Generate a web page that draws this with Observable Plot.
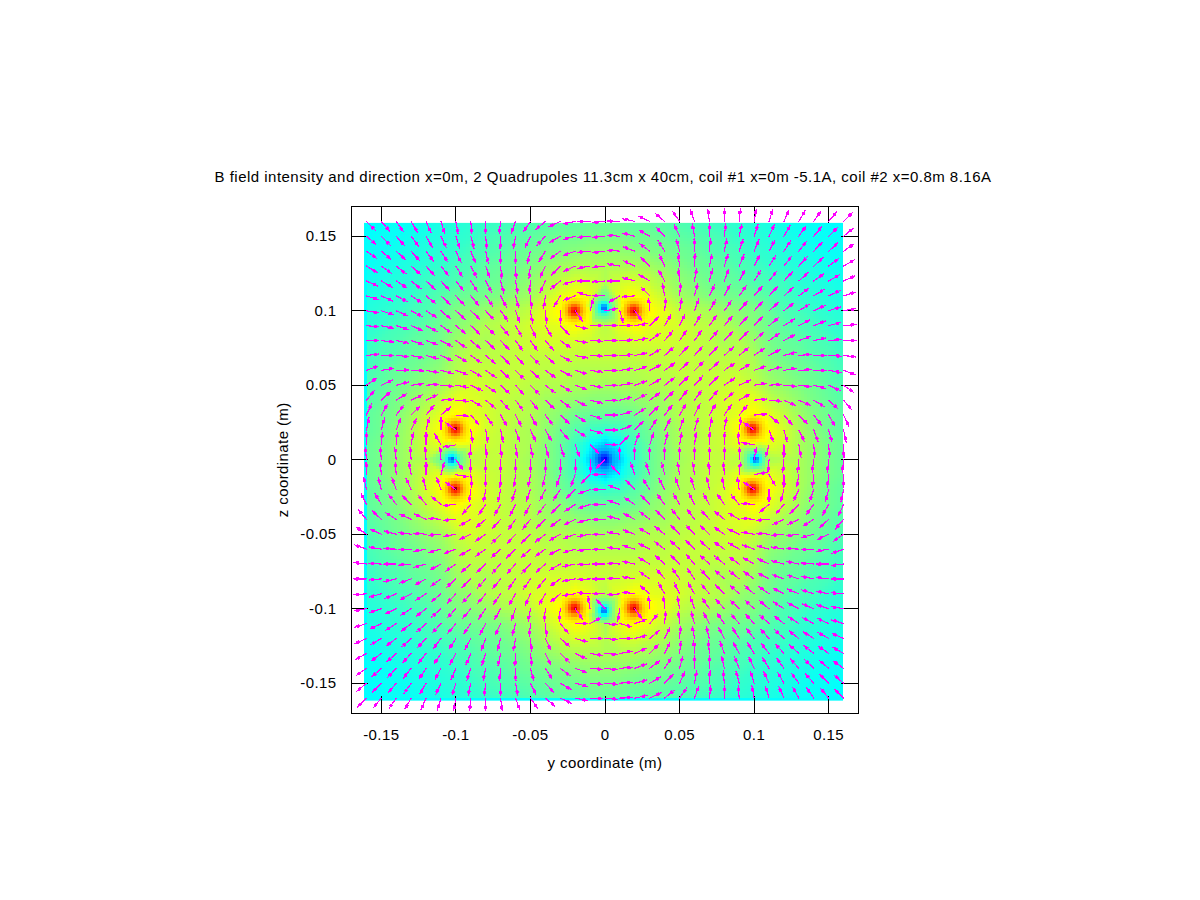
<!DOCTYPE html>
<html><head><meta charset="utf-8">
<script src="https://cdn.jsdelivr.net/npm/d3@7"></script>
<script src="https://cdn.jsdelivr.net/npm/@observablehq/plot@0.6"></script>
<style>
body{margin:0;background:#fff;font-family:"Liberation Sans",Arial,sans-serif}
#title{height:190px;box-sizing:border-box;padding-top:167px;line-height:20px;font-size:15px;letter-spacing:0.48px;text-align:center;width:1206px;color:#000;white-space:nowrap}
svg{display:block}
</style></head><body>
<div id="title">B field intensity and direction x=0m, 2 Quadrupoles 11.3cm x 40cm, coil #1 x=0m -5.1A, coil #2 x=0.8m 8.16A</div>
<div id="chart"></div>
<script>
const xLabel = "y coordinate (m)";
const yLabel = "z coordinate (m)";
const tickValues = [-0.15,-0.1,-0.05,0,0.05,0.1,0.15];
const gridY = [-0.16,-0.15,-0.14,-0.13,-0.12,-0.11,-0.1,-0.09,-0.08,-0.07,-0.06,-0.05,-0.04,-0.03,-0.02,-0.01,0,0.01,0.02,0.03,0.04,0.05,0.06,0.07,0.08,0.09,0.1,0.11,0.12,0.13,0.14,0.15,0.16];
const gridZ = [0.16,0.15,0.14,0.13,0.12,0.11,0.1,0.09,0.08,0.07,0.06,0.05,0.04,0.03,0.02,0.01,0,-0.01,-0.02,-0.03,-0.04,-0.05,-0.06,-0.07,-0.08,-0.09,-0.1,-0.11,-0.12,-0.13,-0.14,-0.15,-0.16];

// Field intensity, on the colour ramp's 0-100 position, rows top to bottom
const intensity = [
[35,35,36,36,37,38,39,40,41,42,43,44,45,46,46,47,47,47,46,46,45,44,43,42,41,40,39,38,37,36,36,35,35],
[35,36,36,37,38,39,40,41,43,44,45,46,47,48,48,49,49,49,48,48,47,46,45,44,43,41,40,39,38,37,36,36,35],
[36,36,37,38,39,40,41,43,44,45,47,48,49,50,51,52,52,52,51,50,49,48,47,45,44,43,41,40,39,38,37,36,36],
[36,37,38,39,40,41,43,44,46,47,48,50,52,54,55,55,55,55,55,54,52,50,48,47,46,44,43,41,40,39,38,37,36],
[37,38,39,40,42,43,44,46,47,48,50,52,55,58,60,59,56,59,60,58,55,52,50,48,47,46,44,43,42,40,39,38,37],
[38,39,40,41,43,45,47,48,49,50,52,54,58,62,65,62,55,62,65,62,58,54,52,50,49,48,47,45,43,41,40,39,38],
[39,40,41,43,44,47,50,51,53,55,56,58,62,66,100,63,5,63,100,66,62,58,56,55,53,51,50,47,44,43,41,40,39],
[40,41,43,44,46,48,51,53,56,57,58,60,61,62,65,62,57,62,65,62,61,60,58,57,56,53,51,48,46,44,43,41,40],
[41,43,44,46,47,49,53,56,55,57,58,59,60,60,60,59,58,59,60,60,60,59,58,57,55,56,53,49,47,46,44,43,41],
[42,44,45,47,48,50,55,57,57,57,58,58,58,58,58,58,58,58,58,58,58,58,58,57,57,57,55,50,48,47,45,44,42],
[43,45,47,48,50,52,56,58,58,58,58,58,57,57,56,56,56,56,56,57,57,58,58,58,58,58,56,52,50,48,47,45,43],
[44,46,48,50,52,54,58,60,59,58,58,57,56,56,55,55,54,55,55,56,56,57,58,58,59,60,58,54,52,50,48,46,44],
[45,47,49,52,55,58,62,61,60,58,57,56,54,53,52,51,51,51,52,53,54,56,57,58,60,61,62,58,55,52,49,47,45],
[46,48,50,54,58,62,66,62,60,58,57,56,53,51,48,47,47,47,48,51,53,56,57,58,60,62,66,62,58,54,50,48,46],
[46,48,51,55,60,65,100,65,60,58,56,55,52,48,45,42,41,42,45,48,52,55,56,58,60,65,100,65,60,55,51,48,46],
[47,49,52,55,59,62,63,62,59,58,56,55,51,47,42,35,30,35,42,47,51,55,56,58,59,62,63,62,59,55,52,49,47],
[47,49,52,55,56,55,5,57,58,58,56,54,51,47,41,30,0,30,41,47,51,54,56,58,58,57,5,55,56,55,52,49,47],
[47,49,52,55,59,62,63,62,59,58,56,55,51,47,42,35,30,35,42,47,51,55,56,58,59,62,63,62,59,55,52,49,47],
[46,48,51,55,60,65,100,65,60,58,56,55,52,48,45,42,41,42,45,48,52,55,56,58,60,65,100,65,60,55,51,48,46],
[46,48,50,54,58,62,66,62,60,58,57,56,53,51,48,47,47,47,48,51,53,56,57,58,60,62,66,62,58,54,50,48,46],
[45,47,49,52,55,58,62,61,60,58,57,56,54,53,52,51,51,51,52,53,54,56,57,58,60,61,62,58,55,52,49,47,45],
[44,46,48,50,52,54,58,60,59,58,58,57,56,56,55,55,54,55,55,56,56,57,58,58,59,60,58,54,52,50,48,46,44],
[43,45,47,48,50,52,56,58,58,58,58,58,57,57,56,56,56,56,56,57,57,58,58,58,58,58,56,52,50,48,47,45,43],
[42,44,45,47,48,50,55,57,57,57,58,58,58,58,58,58,58,58,58,58,58,58,58,57,57,57,55,50,48,47,45,44,42],
[41,43,44,46,47,49,53,56,55,57,58,59,60,60,60,59,58,59,60,60,60,59,58,57,55,56,53,49,47,46,44,43,41],
[40,41,43,44,46,48,51,53,56,57,58,60,61,62,65,62,57,62,65,62,61,60,58,57,56,53,51,48,46,44,43,41,40],
[39,40,41,43,44,47,50,51,53,55,56,58,62,66,100,63,5,63,100,66,62,58,56,55,53,51,50,47,44,43,41,40,39],
[38,39,40,41,43,45,47,48,49,50,52,54,58,62,65,62,55,62,65,62,58,54,52,50,49,48,47,45,43,41,40,39,38],
[37,38,39,40,42,43,44,46,47,48,50,52,55,58,60,59,56,59,60,58,55,52,50,48,47,46,44,43,42,40,39,38,37],
[36,37,38,39,40,41,43,44,46,47,48,50,52,54,55,55,55,55,55,54,52,50,48,47,46,44,43,41,40,39,38,37,36],
[36,36,37,38,39,40,41,43,44,45,47,48,49,50,51,52,52,52,51,50,49,48,47,45,44,43,41,40,39,38,37,36,36],
[35,36,36,37,38,39,40,41,43,44,45,46,47,48,48,49,49,49,48,48,47,46,45,44,43,41,40,39,38,37,36,36,35],
[35,35,36,36,37,38,39,40,41,42,43,44,45,46,46,47,47,47,46,46,45,44,43,42,41,40,39,38,37,36,36,35,35]
];

// Arrow direction in degrees (counter-clockwise from +y), rows top to bottom
const arrowAngle = [
[-45,-50,-55,-60,-66,-73,-80,-85,-90,-97,-110,-125,-140,-155,-168,-178,185,178,168,155,140,125,110,97,90,85,80,73,66,60,55,50,45],
[-40,-45,-48,-53,-60,-65,-72,-75,-85,-93,-100,-115,-133,-150,-165,-175,185,175,165,150,133,115,100,90,83,78,72,65,60,55,50,45,40],
[-35,-40,-43,-48,-54,-58,-65,-68,-78,-90,-92,-105,-122,-143,-160,-175,187,175,160,143,122,105,92,85,78,72,67,62,57,52,47,42,35],
[-30,-35,-38,-42,-48,-52,-58,-62,-70,-85,-87,-97,-115,-135,-155,-170,185,170,155,135,115,97,87,78,72,67,62,57,52,48,42,37,30],
[-24,-30,-33,-38,-43,-48,-52,-58,-62,-75,-80,-95,-115,-140,-165,-180,185,180,165,150,120,95,80,75,70,62,57,52,47,42,36,30,24],
[-17,-25,-28,-33,-38,-43,-48,-50,-55,-62,-75,-85,-98,-120,-160,-195,180,210,185,135,100,85,75,65,62,55,50,47,42,38,32,25,17],
[-10,-18,-23,-28,-33,-40,-43,-43,-48,-55,-70,-80,-85,-88,-55,75,10,-75,-55,95,85,80,70,60,55,50,47,42,38,32,25,18,10],
[-5,-12,-18,-23,-28,-35,-40,-43,-45,-50,-60,-65,-60,-45,-15,0,0,0,10,45,60,65,60,55,50,47,47,40,32,28,22,15,5],
[0,-7,-12,-18,-20,-28,-35,-40,-43,-47,-55,-55,-50,-35,-10,-3,0,3,10,35,50,55,55,50,47,45,42,35,28,20,12,5,0],
[7,0,-5,-12,-15,-25,-30,-35,-40,-43,-48,-45,-42,-30,-12,-3,0,3,12,30,42,47,48,47,43,40,35,28,15,5,0,-3,-7],
[20,10,2,-3,-10,-15,-20,-30,-35,-42,-45,-42,-36,-27,-17,-8,0,8,17,27,36,42,45,42,35,30,20,15,10,3,-2,-10,-20],
[35,25,15,7,5,-5,-10,-25,-35,-43,-48,-45,-38,-30,-20,-10,0,10,20,30,38,45,48,45,35,25,10,5,-5,-7,-15,-25,-35],
[50,43,32,25,25,5,-5,-30,-40,-48,-54,-52,-45,-37,-27,-14,0,14,27,37,45,52,54,48,40,30,5,-5,-25,-25,-32,-43,-50],
[65,60,53,45,50,40,-5,-50,-55,-60,-63,-60,-53,-45,-33,-18,0,18,33,45,53,60,63,60,55,50,5,-40,-50,-45,-53,-60,-65],
[78,75,70,65,75,90,145,-82,-80,-78,-70,-65,-60,-48,-32,-15,0,20,45,57,63,70,73,78,80,82,145,-70,-75,-65,-70,-75,-78],
[88,85,85,80,90,120,-170,-95,-87,-87,-82,-80,-76,-72,-70,-45,0,45,70,72,76,80,82,87,87,95,170,-105,-90,-80,-85,-85,-88],
[95,95,97,95,95,95,-55,-90,-90,-90,-90,-90,-90,-90,-90,-90,-135,90,90,90,90,90,90,90,90,90,80,-95,-95,-95,-97,-95,-95],
[-268,-265,-265,-260,-270,-285,-10,-85,-93,-93,-98,-100,-104,-108,-110,-135,180,135,110,108,104,100,98,93,93,85,10,300,270,260,265,265,268],
[-258,-255,-250,-245,-255,-250,145,-98,-100,-102,-107,-110,-117,-123,-135,-160,180,160,135,123,117,110,107,102,100,98,145,270,255,245,250,255,258],
[-245,-240,-233,-225,-230,-220,-175,-130,-125,-120,-117,-120,-127,-135,-147,-162,180,162,147,135,127,120,117,120,125,130,175,220,230,225,233,240,245],
[-230,-223,-212,-205,-205,-185,-175,-150,-140,-132,-126,-128,-135,-143,-153,-166,180,166,153,143,135,128,126,132,140,150,175,185,205,205,212,223,230],
[-215,-205,-195,-187,-185,-175,-170,-155,-145,-135,-132,-135,-142,-150,-160,-170,180,170,160,150,142,135,132,137,145,155,170,175,185,187,195,205,215],
[-200,-190,-182,-177,-170,-165,-160,-150,-145,-138,-135,-138,-144,-153,-163,-172,180,172,163,153,144,138,135,138,145,150,160,165,170,177,182,190,200],
[-187,-183,-180,-175,-165,-152,-145,-140,-137,-133,-132,-133,-138,-150,-168,-177,180,177,168,150,138,135,132,137,140,145,150,155,165,168,175,180,187],
[-180,-175,-168,-160,-152,-145,-138,-135,-133,-130,-125,-125,-130,-145,-170,-177,180,177,170,145,130,125,125,133,137,140,145,152,160,162,168,173,180],
[-175,-165,-158,-152,-148,-140,-133,-133,-130,-125,-120,-115,-120,-140,-172,-185,180,185,172,140,120,115,120,130,135,137,140,145,152,157,162,168,175],
[-170,-162,-155,-148,-142,-138,-133,-130,-125,-120,-110,-100,-95,-95,-55,100,135,-100,-55,95,95,100,110,125,132,137,137,140,147,152,157,162,170],
[-163,-155,-148,-142,-138,-133,-130,-125,-118,-115,-105,-95,-85,-50,0,30,-5,-15,20,50,85,95,105,118,125,130,132,137,142,147,152,155,163],
[-156,-150,-144,-138,-133,-128,-123,-118,-110,-105,-100,-85,-65,-40,-15,0,-5,0,15,40,65,85,100,105,118,122,128,132,137,142,147,150,156],
[-150,-143,-138,-132,-128,-123,-118,-113,-108,-102,-93,-83,-65,-45,-25,-10,-5,10,25,45,65,83,93,95,110,118,122,128,132,138,142,145,150],
[-145,-138,-133,-128,-123,-118,-113,-108,-102,-95,-88,-75,-58,-37,-20,-5,-7,5,20,37,58,75,88,90,102,112,115,122,126,132,137,140,145],
[-140,-135,-130,-125,-120,-115,-108,-102,-97,-90,-80,-65,-47,-30,-15,-5,-5,5,15,30,47,65,80,87,95,105,108,115,120,127,132,135,140],
[-135,-130,-125,-120,-114,-107,-100,-95,-90,-83,-70,-55,-40,-25,-12,-2,-5,2,12,25,40,55,70,83,90,95,100,107,114,120,125,130,135]
];

// Fine structure around the singular points
const hotY = [-0.0208,0.0195,-0.1006,0.099,-0.1006,0.099,-0.0208,0.0195];
const hotZ = [0.1,0.1,0.0205,0.0205,-0.0198,-0.0198,-0.0998,-0.0998];
const hotPeak = 100;
const hotRadius = [0.0013,0.0027,0.004,0.0055,0.0075];
const hotLevel = [88,83,78,72,68];
const coldY = [-0.001,-0.103,0.101,-0.001];
const coldZ = [0.102,0,0,-0.1015];
const coldPeak = 8;
const coldRadius = [0.0012,0.0025,0.004,0.006];
const coldLevel = [24,32,40,47];
const centreY = [-0.0007];
const centreZ = [0];
const centrePeak = 0;
const centreRadius = [0.0012,0.003,0.005,0.007];
const centreLevel = [14,18,23,28];
const ringBearings = [0,30,60,90,120,150,180,210,240,270,300,330];
const clearRadius = 0.0085;

// Colour ramp
const rampStops = [0,6,12,35,65,90,96,100];
const rampColors = ["#000000","#00008b","#0000ff","#00ffff","#ffff00","#ff0000","#a00000","#000000"];

const rings = [
  [hotY,hotZ,hotPeak,hotRadius,hotLevel],
  [coldY,coldZ,coldPeak,coldRadius,coldLevel],
  [centreY,centreZ,centrePeak,centreRadius,centreLevel]
];
const samples = [];
intensity.forEach((row,r)=>row.forEach((v,c)=>{
  const y=gridY[c], z=gridZ[r];
  const near = rings.some(([ys,zs])=>ys.some((cy,i)=>Math.hypot(y-cy,z-zs[i])<clearRadius));
  if(!near) samples.push({y,z,v});
}));
for (const [ys,zs,peak,radii,levels] of rings) {
  ys.forEach((cy,i)=>{
    samples.push({y:cy,z:zs[i],v:peak});
    radii.forEach((rad,j)=>ringBearings.forEach(b=>{
      samples.push({y:cy+rad*Math.cos(b*Math.PI/180),z:zs[i]+rad*Math.sin(b*Math.PI/180),v:levels[j]});
    }));
  });
}
const arrows = [];
arrowAngle.forEach((row,r)=>row.forEach((a,c)=>arrows.push({y:gridY[c],z:gridZ[r],a})));

const arrowShape = {
  draw(ctx,l){
    const h=l*0.72;
    ctx.moveTo(0,0); ctx.lineTo(0,-l);
    ctx.moveTo(-1,-h+1); ctx.lineTo(1,-h+1); ctx.lineTo(1,-h-1); ctx.lineTo(-1,-h-1); ctx.closePath();
  }
};

const fmt = d=>String(d);
const plot = Plot.plot({
  width:1200,height:710,
  marginLeft:351,marginRight:342,marginTop:16,marginBottom:187.5,
  style:{fontFamily:'"Liberation Sans",Arial,sans-serif',fontSize:"15px",letterSpacing:"0.4px",color:"#000",background:"#fff"},
  x:{domain:[-0.17,0.17]},
  y:{domain:[-0.17,0.17]},
  color:{type:"linear",domain:rampStops,range:rampColors,interpolate:"rgb",clamp:true},
  marks:[
    Plot.raster(samples,{x:"y",y:"z",fill:"v",x1:-0.1616,x2:0.1596,y1:-0.1617,y2:0.159,interpolate:"barycentric",pixelSize:3,imageRendering:"pixelated"}),
    Plot.ruleX(tickValues,{y1:-0.17,y2:-0.1586,stroke:"#000",strokeWidth:1,shapeRendering:"crispEdges"}),
    Plot.ruleX(tickValues,{y1:0.17,y2:0.1586,stroke:"#000",strokeWidth:1,shapeRendering:"crispEdges"}),
    Plot.ruleY(tickValues,{x1:-0.17,x2:-0.1586,stroke:"#000",strokeWidth:1,shapeRendering:"crispEdges"}),
    Plot.ruleY(tickValues,{x1:0.17,x2:0.1586,stroke:"#000",strokeWidth:1,shapeRendering:"crispEdges"}),
    Plot.vector(arrows,{x:"y",y:"z",rotate:d=>90-d.a,length:12.5,anchor:"start",shape:arrowShape,stroke:"#ff00ff",strokeWidth:1.15,shapeRendering:"crispEdges"}),
    Plot.frame({stroke:"#000",strokeWidth:1,shapeRendering:"crispEdges"}),
    Plot.axisX({ticks:tickValues,tickFormat:fmt,tickSize:0,tickPadding:16,label:xLabel,labelAnchor:"center",labelArrow:"none",labelOffset:55}),
    Plot.axisY({ticks:tickValues,tickFormat:fmt,tickSize:0,tickPadding:15,label:yLabel,labelAnchor:"center",labelArrow:"none",labelOffset:74})
  ]
});
document.getElementById("chart").appendChild(plot);
</script>
</body></html>
